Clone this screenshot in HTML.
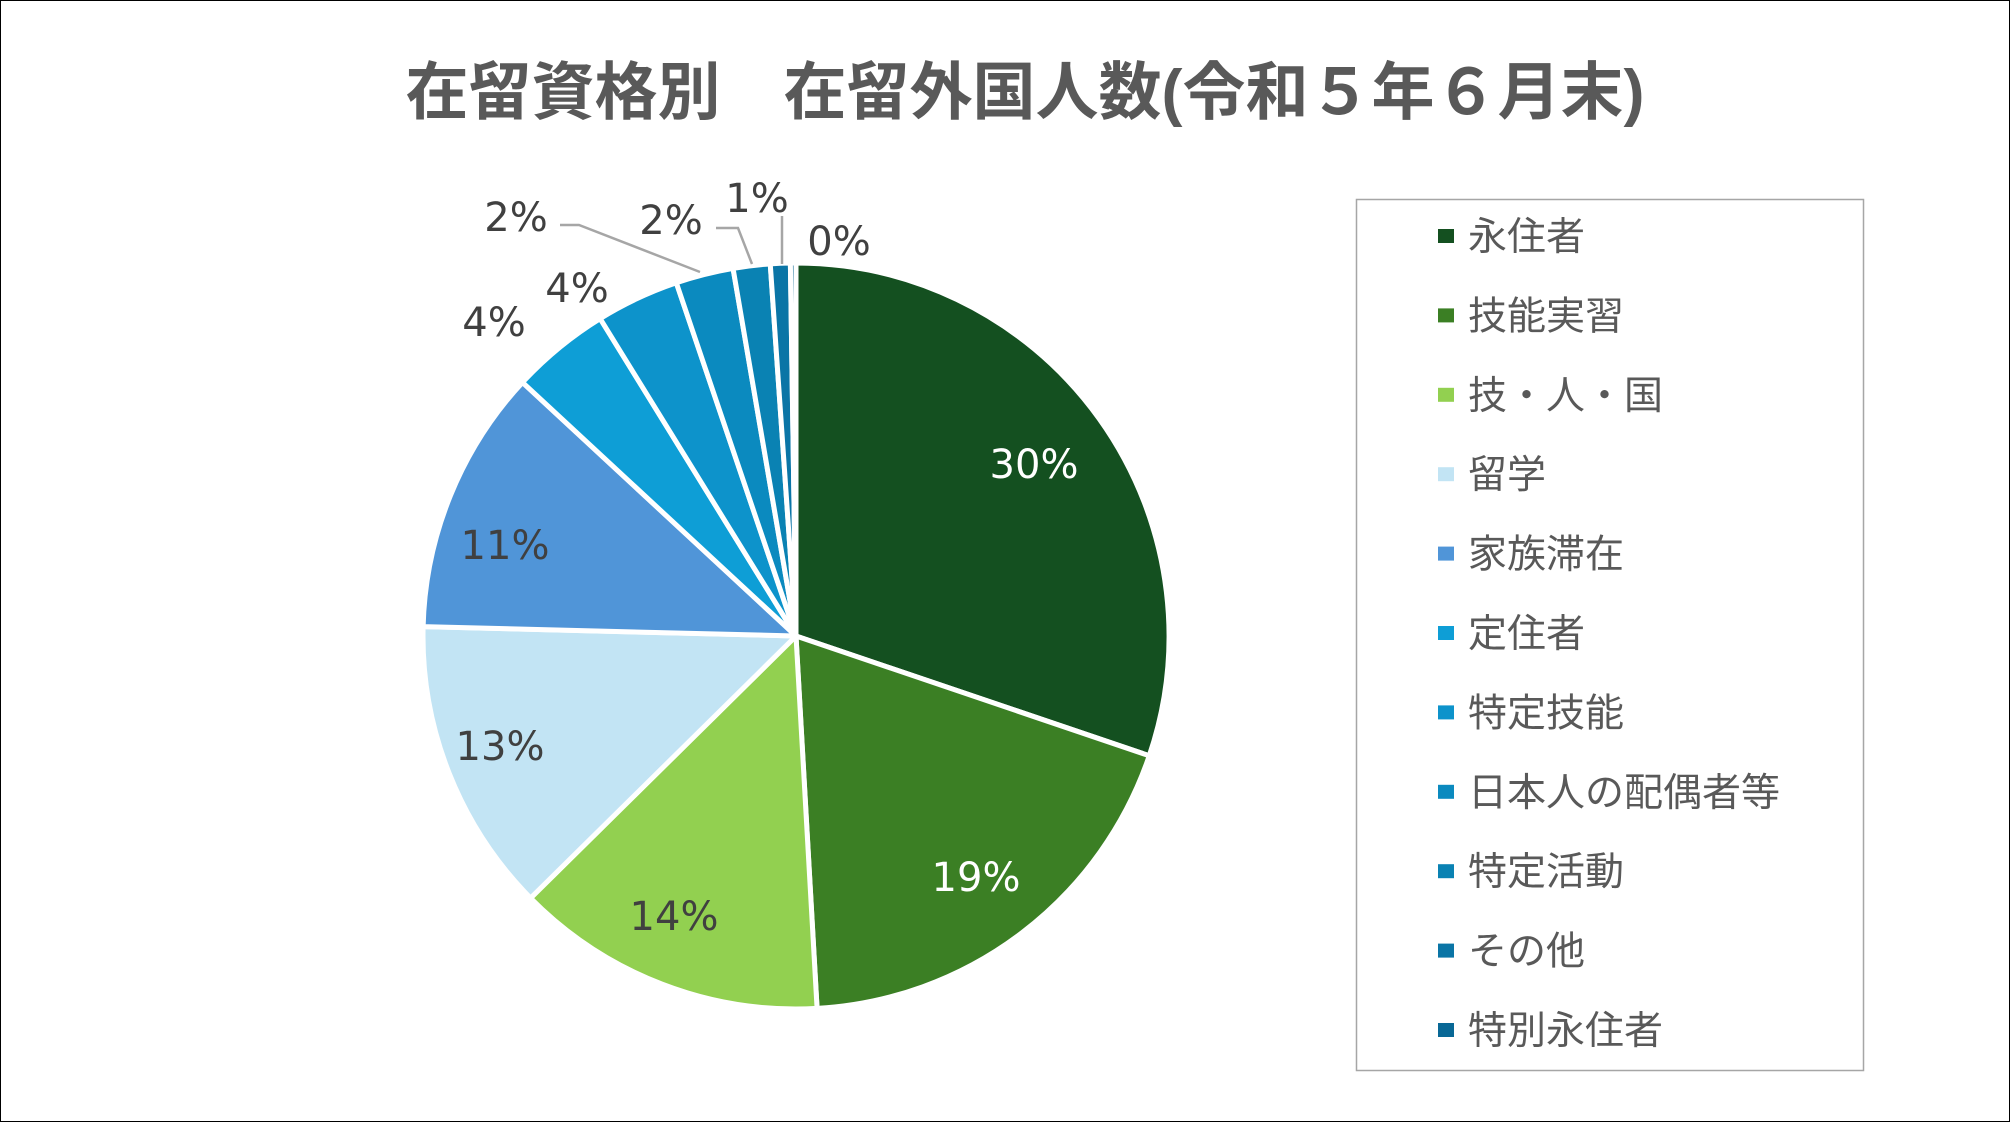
<!DOCTYPE html>
<html><head><meta charset="utf-8">
<style>
html,body{margin:0;padding:0;background:#fff;}
body{width:2010px;height:1122px;overflow:hidden;position:relative;}
#frame{position:absolute;left:0;top:0;width:2008px;height:1120px;border:1px solid #000;}
</style></head>
<body>
<div id="frame"></div>
<svg id="s" width="2010" height="1122" style="position:absolute;left:0;top:0" font-family="'DejaVu Sans','Noto Sans CJK JP',sans-serif">
<text x="1025" y="114" text-anchor="middle" font-size="63" font-weight="bold" fill="#595959" font-family="'Liberation Sans','Noto Sans CJK JP',sans-serif">在留資格別　在留外国人数(令和５年６月末)</text>
<g id="pie"></g>
<g stroke="#a6a6a6" stroke-width="2.5" fill="none">
<polyline points="560,225 579,225 700,272"/>
<polyline points="716,228 738,228 752,264"/>
<polyline points="782,216 782,264"/>
</g>
<g font-size="40" text-anchor="middle" fill="#404040">
<text x="1034" y="478" fill="#fff">30%</text>
<text x="976" y="891" fill="#fff">19%</text>
<text x="674" y="930">14%</text>
<text x="500" y="760">13%</text>
<text x="505" y="559">11%</text>
<text x="494" y="336">4%</text>
<text x="577" y="302">4%</text>
<text x="516" y="231">2%</text>
<text x="671" y="234">2%</text>
<text x="757" y="212">1%</text>
<text x="839" y="255">0%</text>
</g>
<rect x="1356.5" y="199.5" width="507" height="871" fill="none" stroke="#a6a6a6" stroke-width="1.5"/>
<g id="leg" font-size="39" fill="#595959" font-family="'Liberation Sans','Noto Sans CJK JP',sans-serif"></g>
</svg>
<script>
var cx=796,cy=636,r=373;
var cum=[0,30.2,49.1,62.6,75.4,86.9,91.2,94.8,97.3,98.9,99.76,100];
var cols=["#145020","#3b7f24","#92d050","#c2e4f4","#5095d8","#0e9ed6","#0d93cb","#0b8abf","#0a82b3","#0a75a6","#096896"];
var names=["永住者","技能実習","技・人・国","留学","家族滞在","定住者","特定技能","日本人の配偶者等","特定活動","その他","特別永住者"];
var g=document.getElementById('pie'),h='';
function pt(p){var a=p/100*2*Math.PI;return [cx+r*Math.sin(a),cy-r*Math.cos(a)];}
for(var i=0;i<11;i++){var a=pt(cum[i]),b=pt(cum[i+1]);var large=(cum[i+1]-cum[i])>50?1:0;
h+='<path d="M'+cx+','+cy+' L'+a[0].toFixed(2)+','+a[1].toFixed(2)+' A'+r+','+r+' 0 '+large+' 1 '+b[0].toFixed(2)+','+b[1].toFixed(2)+' Z" fill="'+cols[i]+'" stroke="#fff" stroke-width="5" stroke-linejoin="round"/>';}
g.innerHTML=h;
var l='';
for(var i=0;i<11;i++){var y=237+i*79.4;
l+='<rect x="1438" y="'+(y-8)+'" width="16" height="14" fill="'+cols[i]+'"/><text x="1468" y="'+(y+13)+'">'+names[i]+'</text>';}
document.getElementById('leg').innerHTML=l;
</script>
</body></html>
